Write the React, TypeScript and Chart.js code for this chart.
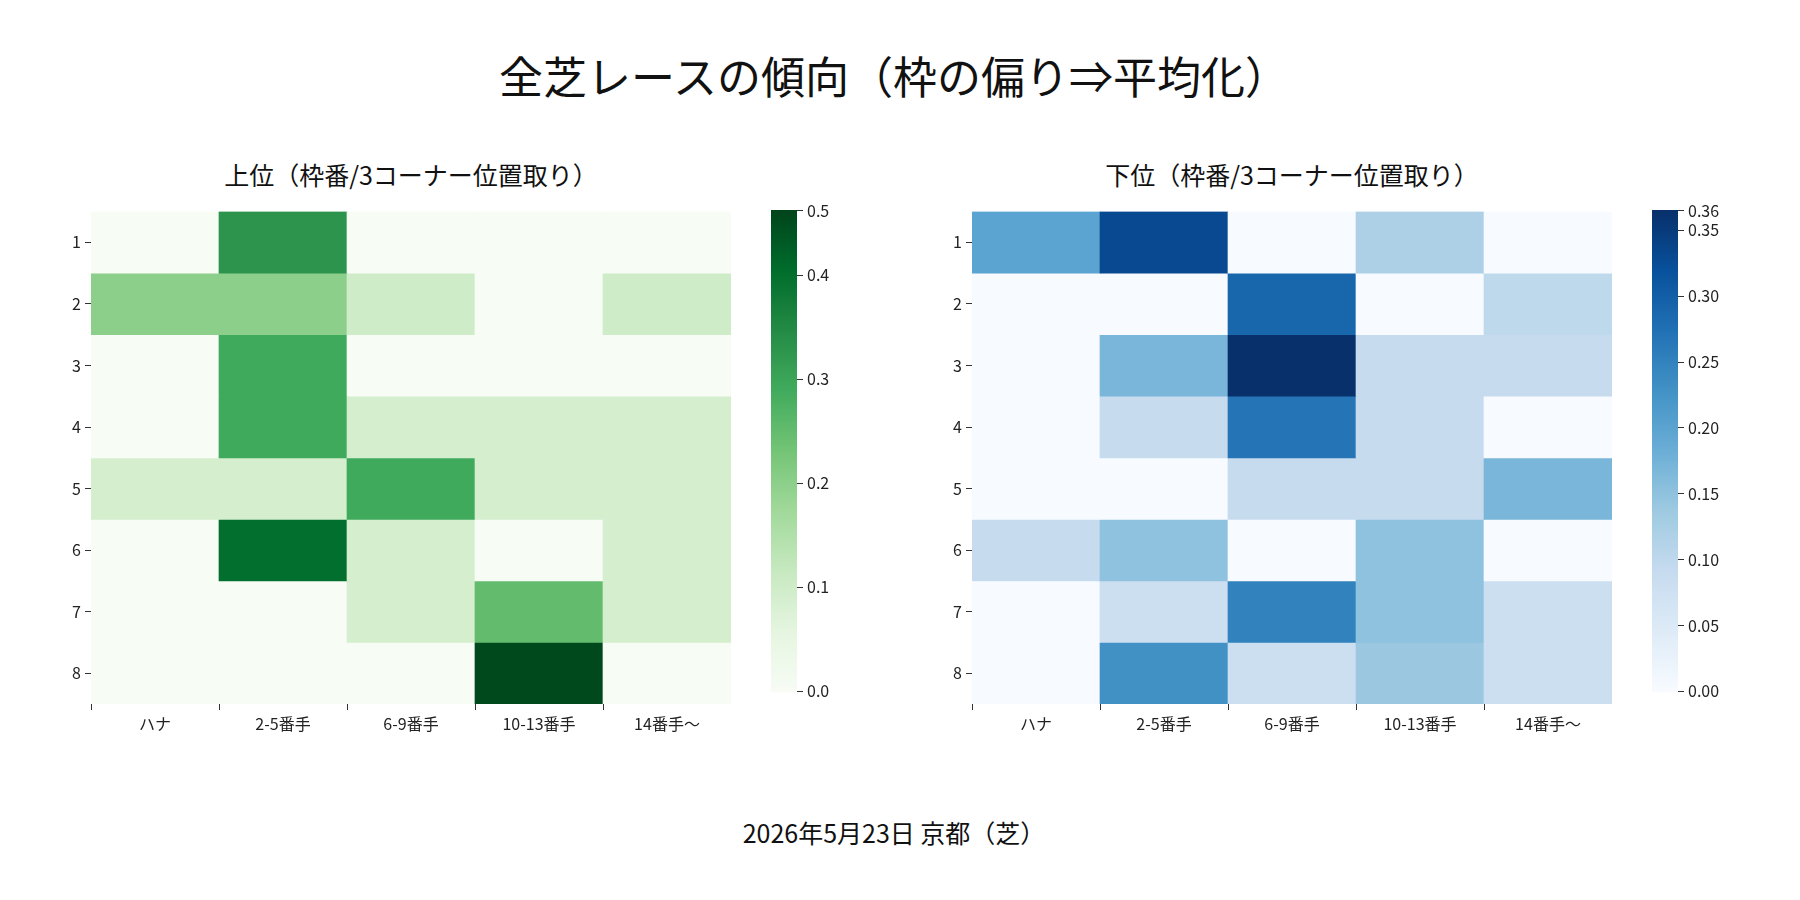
import React, { useEffect, useRef } from "react";
import { Chart, registerables } from "chart.js";
Chart.register(...registerables);

const columns = ["ハナ", "2-5番手", "6-9番手", "10-13番手", "14番手～"];
const rows = ["1", "2", "3", "4", "5", "6", "7", "8"];
const topValues = [
  [0, 0.33, 0, 0, 0],
  [0.2, 0.2, 0.1, 0, 0.1],
  [0, 0.29, 0, 0, 0],
  [0, 0.29, 0.09, 0.09, 0.09],
  [0.09, 0.09, 0.29, 0.09, 0.09],
  [0, 0.4, 0.09, 0, 0.09],
  [0, 0, 0.09, 0.25, 0.09],
  [0, 0, 0, 0.455, 0],
];
const bottomValues = [
  [0.2, 0.33, 0, 0.12, 0],
  [0, 0, 0.29, 0, 0.1],
  [0, 0.17, 0.364, 0.09, 0.09],
  [0, 0.09, 0.27, 0.09, 0],
  [0, 0, 0.09, 0.09, 0.17],
  [0.09, 0.15, 0, 0.15, 0],
  [0, 0.08, 0.25, 0.15, 0.08],
  [0, 0.23, 0.08, 0.14, 0.08],
];
const GREENS = ["#f7fcf5", "#e5f5e0", "#c7e9c0", "#a1d99b", "#74c476", "#41ab5d", "#238b45", "#006d2c", "#00441b"];
const BLUES = ["#f7fbff", "#deebf7", "#c6dbef", "#9ecae1", "#6baed6", "#4292c6", "#2171b5", "#08519c", "#08306b"];
const FONT = "'Noto Sans CJK JP', 'Noto Sans', sans-serif";

function hex(h: string) {
  return [1, 3, 5].map((i) => parseInt(h.slice(i, i + 2), 16));
}
function cmap(stops: string[], t: number) {
  t = Math.max(0, Math.min(1, t));
  const p = t * (stops.length - 1);
  const i = Math.min(stops.length - 2, Math.floor(p));
  const f = p - i;
  const a = hex(stops[i]), b = hex(stops[i + 1]);
  const c = a.map((v, k) => Math.round(v + (b[k] - v) * f));
  return `rgb(${c[0]},${c[1]},${c[2]})`;
}

function Heatmap({ values, stops, max, left, top }: any) {
  const ref = useRef<HTMLCanvasElement>(null);
  useEffect(() => {
    const datasets = values.map((row: number[], r: number) => ({
      data: row.map(() => [r, r + 1]),
      backgroundColor: row.map((v) => cmap(stops, v / max)),
      borderWidth: 0,
      barPercentage: 1,
      categoryPercentage: 1,
      grouped: false,
    }));
    const ch = new Chart(ref.current!, {
      type: "bar",
      data: { labels: columns, datasets },
      options: {
        animation: false,
        responsive: false,
        layout: { padding: 0 },
        plugins: { legend: { display: false }, tooltip: { enabled: false } },
        scales: {
          x: {
            grid: { drawOnChartArea: false, drawTicks: true, tickLength: 6, color: "#333" },
            border: { display: false },
            ticks: { color: "#222", font: { family: FONT, size: 16 }, padding: 4 },
            afterFit: (s: any) => { s.height = 45; },
          },
          y: {
            type: "linear",
            reverse: true,
            min: 0,
            max: 8,
            grid: { drawOnChartArea: false, drawTicks: true, tickLength: 6, color: "#333" },
            border: { display: false },
            afterBuildTicks: (s: any) => { s.ticks = rows.map((_, i) => ({ value: i + 0.5 })); },
            ticks: { color: "#222", font: { family: FONT, size: 16 }, padding: 4, callback: (v: any) => rows[Math.floor(v)] },
            afterFit: (s: any) => { s.width = 40; },
          },
        },
      },
    });
    return () => ch.destroy();
  }, []);
  return <canvas ref={ref} width={680} height={551} style={{ position: "absolute", left: left - 40, top }} />;
}

function ColorBar({ stops, max, step, digits, left, top }: any) {
  const ref = useRef<HTMLCanvasElement>(null);
  useEffect(() => {
    const grad = {
      id: "grad",
      beforeDatasetsDraw(c: any) {
        const { left: l, right: r, top: t, bottom: b } = c.chartArea;
        const ctx = c.ctx;
        for (let y = Math.floor(t); y < b; y++) {
          ctx.fillStyle = cmap(stops, (b - y - 0.5) / (b - t));
          ctx.fillRect(l, y, r - l, 1.2);
        }
      },
    };
    const ch = new Chart(ref.current!, {
      type: "scatter",
      data: { datasets: [{ data: [] }] },
      plugins: [grad],
      options: {
        animation: false,
        responsive: false,
        layout: { padding: { top: 0, bottom: 0, left: 0, right: 0 } },
        plugins: { legend: { display: false }, tooltip: { enabled: false } },
        scales: {
          x: { display: false, min: 0, max: 1 },
          y: {
            position: "right",
            min: 0,
            max,
            grid: { drawOnChartArea: false, drawTicks: true, tickLength: 6, color: "#333" },
            border: { display: false },
            ticks: { stepSize: step, color: "#222", font: { family: FONT, size: 16 }, padding: 4, callback: (v: any) => Number(v).toFixed(digits) },
            afterFit: (s: any) => { s.width = 70; },
          },
        },
      },
    });
    return () => ch.destroy();
  }, []);
  return <canvas ref={ref} width={96} height={508} style={{ position: "absolute", left, top: top - 1 }} />;
}

const txt = (s: string, x: number, y: number, size: number) => (
  <div style={{ position: "absolute", left: x - 600, width: 1200, top: y - size * 0.7, textAlign: "center", fontSize: size, fontFamily: FONT, color: "#111", lineHeight: 1.4 + "" }}>{s}</div>
);

export default function App() {
  return (
    <div style={{ position: "relative", width: 1800, height: 900, margin: -8, background: "#fff" }}>
      {txt("全芝レースの傾向（枠の偏り⇒平均化）", 894, 76, 44)}
      {txt("上位（枠番/3コーナー位置取り）", 411, 174, 25)}
      {txt("下位（枠番/3コーナー位置取り）", 1292, 174, 25)}
      {txt("2026年5月23日 京都（芝）", 894, 832, 25)}
      <Heatmap values={topValues} stops={GREENS} max={0.462} left={91} top={198} />
      <ColorBar stops={GREENS} max={0.462} step={0.1} digits={1} left={771} top={198} />
      <Heatmap values={bottomValues} stops={BLUES} max={0.365} left={972} top={198} />
      <ColorBar stops={BLUES} max={0.365} step={0.05} digits={2} left={1652} top={198} />
    </div>
  );
}
